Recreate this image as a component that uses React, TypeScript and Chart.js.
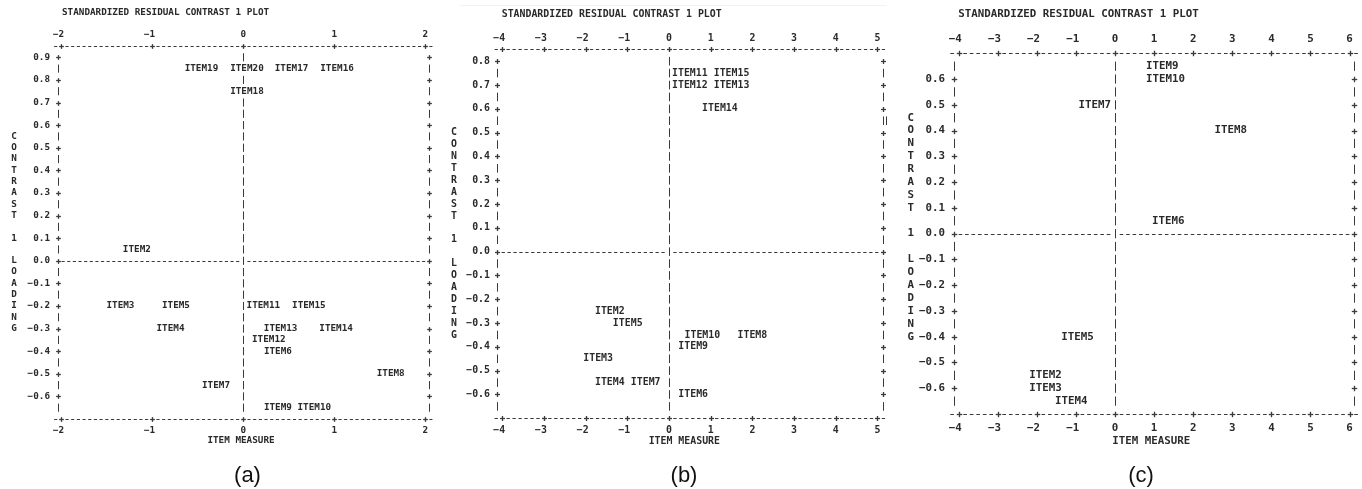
import React, { useEffect, useRef } from "react";
import { Chart, registerables } from "chart.js";

Chart.register(...registerables);

// ---------- texts ----------
const PLOT_TITLE = "STANDARDIZED RESIDUAL CONTRAST 1 PLOT";
const X_AXIS_TITLE = "ITEM MEASURE";
const Y_AXIS_TITLE = "CONTRAST 1 LOADING";

// ---------- panel (a) ----------
const A_ITEMS = ["ITEM19", "ITEM20", "ITEM17", "ITEM16", "ITEM18", "ITEM2", "ITEM3", "ITEM5", "ITEM11", "ITEM15", "ITEM4", "ITEM13", "ITEM14", "ITEM12", "ITEM6", "ITEM8", "ITEM7", "ITEM9", "ITEM10"];
const A_MEASURE = [-0.46, 0.04, 0.53, 1.03, 0.04, -1.17, -1.35, -0.74, 0.22, 0.72, -0.8, 0.41, 1.02, 0.28, 0.38, 1.62, -0.3, 0.38, 0.78];
const A_LOADING = [0.85, 0.85, 0.85, 0.85, 0.75, 0.05, -0.2, -0.2, -0.2, -0.2, -0.3, -0.3, -0.3, -0.35, -0.4, -0.5, -0.55, -0.65, -0.65];
const A_X_TICKS = [-2, -1, 0, 1, 2];
const A_Y_TICKS = [0.9, 0.8, 0.7, 0.6, 0.5, 0.4, 0.3, 0.2, 0.1, 0.0, -0.1, -0.2, -0.3, -0.4, -0.5, -0.6];

// ---------- panel (b) ----------
const B_ITEMS = ["ITEM11", "ITEM15", "ITEM12", "ITEM13", "ITEM14", "ITEM2", "ITEM5", "ITEM10", "ITEM8", "ITEM9", "ITEM3", "ITEM4", "ITEM7", "ITEM6"];
const B_MEASURE = [0.5, 1.5, 0.5, 1.5, 1.22, -1.42, -0.99, 0.8, 2.0, 0.58, -1.7, -1.42, -0.56, 0.58];
const B_LOADING = [0.75, 0.75, 0.7, 0.7, 0.6, -0.25, -0.3, -0.35, -0.35, -0.4, -0.45, -0.55, -0.55, -0.6];
const B_X_TICKS = [-4, -3, -2, -1, 0, 1, 2, 3, 4, 5];
const B_Y_TICKS = [0.8, 0.7, 0.6, 0.5, 0.4, 0.3, 0.2, 0.1, 0.0, -0.1, -0.2, -0.3, -0.4, -0.5, -0.6];

// ---------- panel (c) ----------
const C_ITEMS = ["ITEM9", "ITEM10", "ITEM7", "ITEM8", "ITEM6", "ITEM5", "ITEM2", "ITEM3", "ITEM4"];
const C_MEASURE = [1.21, 1.29, -0.52, 2.96, 1.36, -0.96, -1.78, -1.78, -1.12];
const C_LOADING = [0.65, 0.6, 0.5, 0.4, 0.05, -0.4, -0.55, -0.6, -0.65];
const C_X_TICKS = [-4, -3, -2, -1, 0, 1, 2, 3, 4, 5, 6];
const C_Y_TICKS = [0.6, 0.5, 0.4, 0.3, 0.2, 0.1, 0.0, -0.1, -0.2, -0.3, -0.4, -0.5, -0.6];

// ---------- styles ----------
const INK = "#2a2a2a";
const LINE = "#3a3a3a";
const MONO = '"DejaVu Sans Mono", "Liberation Mono", monospace';
const SANS = '"Liberation Sans", Arial, sans-serif';
const PAGE_H = 489;

type Panel = {
  caption: string;
  items: string[];
  measure: number[];
  loading: number[];
  xTicks: number[];
  yTicks: number[];
  xMin: number;
  xMax: number;
  yTop: number;
  yBottom: number;
  canvasLeft: number;
  canvasWidth: number;
  area: { l: number; t: number; r: number; b: number };
  cw: number;
  fs: number;
  titleX: number;
  titleY: number;
  topLabelDy: number;
  botLabelDy: number;
  yLabelGap: number;
  yTitleGap: number;
  yTitleStart: number;
  xTitleX: number;
  xTitleY: number;
  captionX: number;
  extraBarRow: number | null;
};

const PANELS: Panel[] = [
  {
    caption: "(a)", items: A_ITEMS, measure: A_MEASURE, loading: A_LOADING, xTicks: A_X_TICKS, yTicks: A_Y_TICKS,
    xMin: -2.042, xMax: 2.044, yTop: 0.95, yBottom: -0.7,
    canvasLeft: 0, canvasWidth: 445, area: { l: 57.5, t: 46, r: 429.3, b: 419 },
    cw: 5.6, fs: 9.3, titleX: 62, titleY: 13, topLabelDy: 11, botLabelDy: 11.7, yLabelGap: 7.5, yTitleGap: 43.5,
    yTitleStart: 0.55, xTitleX: 241, xTitleY: 441, captionX: 247.5, extraBarRow: null,
  },
  {
    caption: "(b)", items: B_ITEMS, measure: B_MEASURE, loading: B_LOADING, xTicks: B_X_TICKS, yTicks: B_Y_TICKS,
    xMin: -4.118, xMax: 5.125, yTop: 0.85, yBottom: -0.7,
    canvasLeft: 445, canvasWidth: 455, area: { l: 497.3, t: 49.3, r: 882.7, b: 418.3 },
    cw: 5.95, fs: 9.9, titleX: 501.7, titleY: 14, topLabelDy: 11, botLabelDy: 11.7, yLabelGap: 7.3, yTitleGap: 43.3,
    yTitleStart: 0.5, xTitleX: 684.3, xTitleY: 441.7, captionX: 684, extraBarRow: 0.55,
  },
  {
    caption: "(c)", items: C_ITEMS, measure: C_MEASURE, loading: C_LOADING, xTicks: C_X_TICKS, yTicks: C_Y_TICKS,
    xMin: -4.118, xMax: 6.113, yTop: 0.7, yBottom: -0.7,
    canvasLeft: 900, canvasWidth: 462, area: { l: 954, t: 53.3, r: 1354, b: 414 },
    cw: 6.5, fs: 10.8, titleX: 958.3, titleY: 14, topLabelDy: 14, botLabelDy: 14.3, yLabelGap: 9, yTitleGap: 43.3,
    yTitleStart: 0.45, xTitleX: 1151.3, xTitleY: 440.7, captionX: 1141, extraBarRow: null,
  },
];

const fmtX = (v: number) => (v < 0 ? "\u2212" + Math.abs(v) : String(v));
const fmtY = (v: number) => (v < 0 ? "\u2212" + Math.abs(v).toFixed(1) : v.toFixed(1));

function makeAsciiPlugin(p: Panel) {
  return {
    id: "asciiPlot",
    afterDatasetsDraw(chart: any) {
      const { ctx, chartArea } = chart;
      const { left, right, top, bottom } = chartArea;
      const xs = chart.scales.x;
      const ys = chart.scales.y;
      const X = (v: number) => xs.getPixelForValue(v);
      const Y = (v: number) => ys.getPixelForValue(v);
      const ox = p.canvasLeft;
      const rowPx = Math.abs(Y(0) - Y(0.05));

      ctx.save();
      ctx.strokeStyle = LINE;
      ctx.lineWidth = 1;
      const seg = (x1: number, y1: number, x2: number, y2: number) => {
        ctx.beginPath();
        ctx.moveTo(x1, y1);
        ctx.lineTo(x2, y2);
        ctx.stroke();
      };
      const snap = (v: number) => Math.round(v) + 0.5;
      const plus = (x: number, y: number) => {
        const h = p.cw * 0.42;
        const sx = snap(x), sy = snap(y);
        ctx.lineWidth = 1.3;
        seg(sx - h, sy, sx + h, sy);
        seg(sx, sy - h, sx, sy + h);
        ctx.lineWidth = 1;
      };
      const bar = (x: number, y: number) => {
        const h = rowPx * 0.36;
        const sx = snap(x);
        seg(sx, y - h, sx, y + h);
      };
      const dash = (x: number, y: number) => {
        const h = p.cw * 0.28;
        const sy = snap(y);
        seg(x - h, sy, x + h, sy);
      };
      const dashedRun = (x1: number, x2: number, y: number) => {
        const n = Math.max(0, Math.round((x2 - x1) / p.cw) - 1);
        for (let j = 1; j <= n; j++) dash(x1 + ((x2 - x1) * j) / (n + 1), y);
      };

      // top & bottom borders
      const tpx = p.xTicks.map(X);
      for (const yy of [top, bottom]) {
        dash(tpx[0] - p.cw, yy);
        dash(tpx[tpx.length - 1] + p.cw, yy);
        tpx.forEach((tx: number, i: number) => {
          plus(tx, yy);
          if (i < tpx.length - 1) dashedRun(tx, tpx[i + 1], yy);
        });
      }

      // side borders and centre column, row by row
      const kTop = Math.round(p.yTop * 20);
      const kBot = Math.round(p.yBottom * 20);
      const x0 = X(0);
      for (let k = kTop - 1; k > kBot; k--) {
        const yy = Y(k / 20);
        if (k % 2 === 0) {
          plus(left, yy);
          plus(right, yy);
        } else {
          bar(left, yy);
          bar(right, yy);
        }
        bar(x0, yy);
      }
      if (p.extraBarRow !== null) bar(right + 3, Y(p.extraBarRow));

      // zero loading line
      const y0 = Y(0);
      dashedRun(left, x0, y0);
      dashedRun(x0, right, y0);

      // ---- texts ----
      ctx.font = `bold ${p.fs}px ${MONO}`;
      ctx.fillStyle = INK;
      ctx.textBaseline = "middle";

      ctx.textAlign = "left";
      ctx.fillText(PLOT_TITLE, p.titleX - ox, p.titleY);

      ctx.textAlign = "right";
      p.xTicks.forEach((t) => {
        const tx = X(t) + p.cw / 2;
        ctx.fillText(fmtX(t), tx, top - p.topLabelDy);
        ctx.fillText(fmtX(t), tx, bottom + p.botLabelDy);
      });
      p.yTicks.forEach((t) => {
        ctx.fillText(fmtY(t), left - p.yLabelGap, Y(t));
      });

      ctx.textAlign = "center";
      Array.from(Y_AXIS_TITLE).forEach((ch, i) => {
        if (ch !== " ") ctx.fillText(ch, left - p.yTitleGap, Y(p.yTitleStart - i * 0.05));
      });
      ctx.fillText(X_AXIS_TITLE, p.xTitleX - ox, p.xTitleY);

      // item labels at the data points
      const meta = chart.getDatasetMeta(0);
      meta.data.forEach((el: any, i: number) => {
        const label = p.items[i];
        const w = ctx.measureText(label).width;
        ctx.fillStyle = "#ffffff";
        ctx.fillRect(el.x - w / 2 - 0.5, el.y - rowPx * 0.42, w + 1, rowPx * 0.84);
        ctx.fillStyle = INK;
        ctx.fillText(label, el.x, el.y);
      });

      // caption
      ctx.font = `22px ${SANS}`;
      ctx.textBaseline = "alphabetic";
      ctx.fillStyle = "#111111";
      ctx.fillText(p.caption, p.captionX - ox, 481.5);
      ctx.restore();
    },
  };
}

function PanelChart({ p }: { p: Panel }) {
  const ref = useRef<HTMLCanvasElement | null>(null);
  useEffect(() => {
    if (!ref.current) return;
    const chart = new Chart(ref.current, {
      type: "scatter",
      data: {
        datasets: [
          {
            label: "items",
            data: p.measure.map((m, i) => ({ x: m, y: p.loading[i] })),
            pointRadius: 0,
            pointHoverRadius: 0,
            showLine: false,
          },
        ],
      },
      options: {
        animation: false,
        responsive: false,
        devicePixelRatio: 1,
        events: [],
        layout: {
          padding: {
            left: p.area.l - p.canvasLeft,
            top: p.area.t,
            right: p.canvasLeft + p.canvasWidth - p.area.r,
            bottom: PAGE_H - p.area.b,
          },
        },
        plugins: { legend: { display: false }, tooltip: { enabled: false }, title: { display: false } },
        scales: {
          x: { type: "linear", display: false, min: p.xMin, max: p.xMax, bounds: "data" },
          y: { type: "linear", display: false, min: p.yBottom, max: p.yTop, bounds: "data" },
        },
      } as any,
      plugins: [makeAsciiPlugin(p)],
    });
    return () => chart.destroy();
  }, [p]);
  return (
    <canvas
      ref={ref}
      width={p.canvasWidth}
      height={PAGE_H}
      style={{ position: "absolute", left: p.canvasLeft, top: 0, width: p.canvasWidth, height: PAGE_H }}
    />
  );
}

export default function App() {
  return (
    <div style={{ position: "fixed", left: 0, top: 0, width: 1362, height: PAGE_H, background: "#ffffff", overflow: "hidden" }}>
      <div style={{ position: "absolute", left: 460, top: 5, width: 427, height: 1, background: "#f2f2f2" }} />
      {PANELS.map((p) => (
        <PanelChart key={p.caption} p={p} />
      ))}
    </div>
  );
}
